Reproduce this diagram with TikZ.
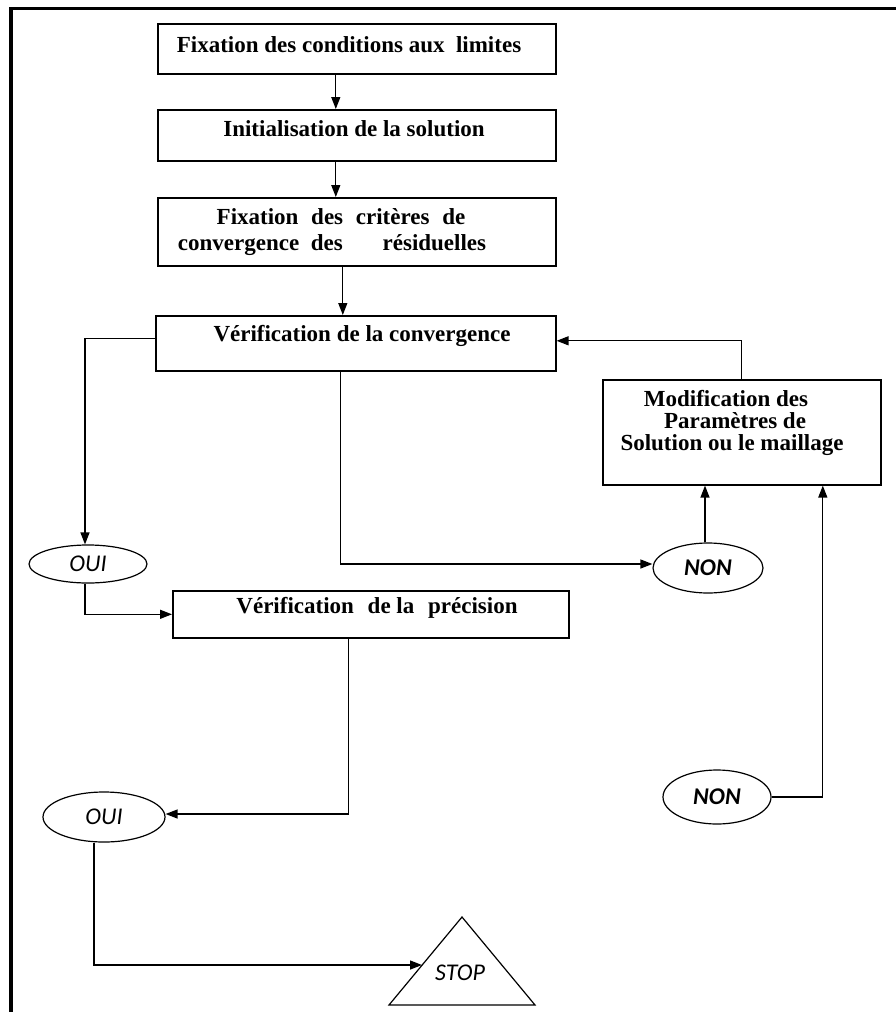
\documentclass[tikz,border=0pt]{standalone}
\usepackage{fontspec}
\setmainfont{Liberation Serif}
\newfontfamily\calib{Carlito}
\usetikzlibrary{arrows.meta,shapes.geometric}
\begin{document}
\begin{tikzpicture}[x=1pt,y=-1pt,
  box/.style={draw, line width=1.6pt, inner sep=0, anchor=north west},
  lbl/.style={font=\fontsize{23}{27}\selectfont\bfseries, inner sep=0, anchor=base},
  oval/.style={draw, ellipse, line width=1.2pt, inner sep=0, font=\calib\fontsize{24}{28}\selectfont\itshape},
  conn/.style={line width=1.3pt},
  arr/.style={conn, -{Triangle[length=12pt,width=9pt]}}]
\useasboundingbox (0,0) rectangle (895,1012);
% frame
\draw[line width=3.5pt] (11,1014) -- (11,8.5) -- (897,8.5);
% boxes
\node[box, minimum width=398pt, minimum height=50pt] (b1) at (157,23) {};
\node[box, minimum width=398pt, minimum height=51pt] (b2) at (157,109) {};
\node[box, minimum width=398pt, minimum height=68pt] (b3) at (157,197) {};
\node[box, minimum width=400pt, minimum height=55pt] (b4) at (155,315) {};
\node[box, minimum width=396pt, minimum height=47pt] (b5) at (172,590) {};
\node[box, minimum width=278pt, minimum height=105pt] (b6) at (602,379) {};
% box texts
\node[lbl] (t1) at (349,52) {Fixation des conditions aux\ \ limites};
\node[lbl] (t2) at (354,136) {Initialisation de la solution};
\node[lbl] (t3a) at (341,224) {Fixation\hspace{7pt} des\hspace{7pt} critères\hspace{7pt} de};
\node[lbl] (t3b) at (332,250) {convergence\hspace{6pt} des\hspace{34pt} résiduelles};
\node[lbl] (t4) at (362,341) {Vérification de la convergence};
\node[lbl] (t5) at (377,613) {Vérification\hspace{8pt} de la\hspace{8pt} précision};
\node[lbl] (t6a) at (726,406) {Modification des};
\node[lbl] (t6b) at (735,428) {Paramètres de};
\node[lbl] (t6c) at (732,450) {Solution ou le maillage};
% ovals
\node[oval, minimum width=118pt, minimum height=38pt] (oui1) at (88,564) {OUI};
\node[oval, minimum width=110pt, minimum height=50pt] (non1) at (708,568) {\bfseries NON};
\node[oval, minimum width=108pt, minimum height=54pt] (non2) at (717,797) {\bfseries NON};
\node[oval, minimum width=122pt, minimum height=50pt] (oui2) at (104,817) {OUI};
% stop triangle
\coordinate (tl) at (389,1005);
\coordinate (tt) at (462,917);
\coordinate (tr) at (535,1005);
\draw[line width=1.2pt, line join=miter] (tl) -- (tt) -- (tr) -- cycle;
\coordinate (stopin) at (422,965);
\node[inner sep=0, anchor=base, font=\calib\fontsize{24}{28}\selectfont\itshape] (stop) at (460,980) {STOP};
% connectors
\draw[arr] ([xshift=-21pt]b1.south) -- ([xshift=-21pt]b2.north);
\draw[arr] ([xshift=-21pt]b2.south) -- ([xshift=-21pt]b3.north);
\draw[arr] ([xshift=-14pt]b3.south) -- ([xshift=-14pt]b3.south |- b4.north);
\draw[arr] ([yshift=4.5pt]b4.west) -| ([xshift=-3pt]oui1.north);
\draw[arr] ([xshift=-15pt]b4.south) |- ([yshift=4pt]non1.west);
\draw[arr] ([xshift=-3pt]non1.north) -- ([xshift=-3pt]non1.north |- b6.south);
\draw[arr] (b6.north) |- ([yshift=2.5pt]b4.east);
\draw[arr] (non2.east) -| ([xshift=81pt]b6.south);
\draw[arr] ([xshift=-3pt]oui1.south) |- (b5.west);
\draw[arr] ([xshift=-22pt]b5.south) |- ([yshift=3pt]oui2.east);
\draw[arr] ([xshift=-10pt]oui2.south) |- (stopin);
\end{tikzpicture}
\end{document}
